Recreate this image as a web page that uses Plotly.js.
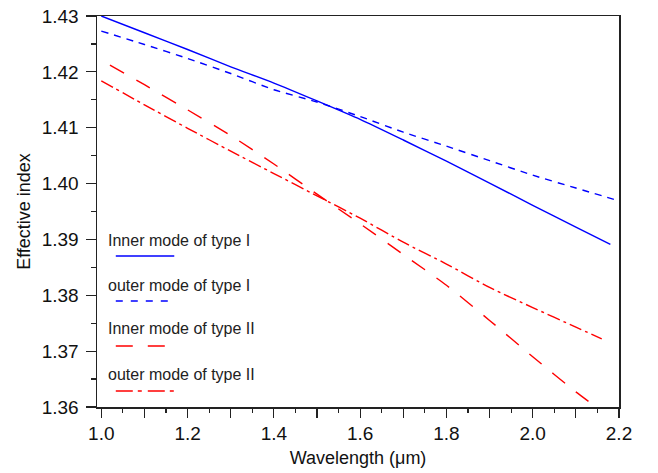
<!DOCTYPE html>
<html>
<head>
<meta charset="utf-8">
<script src="https://cdn.plot.ly/plotly-3.0.1.min.js"></script>
<style>html,body{margin:0;padding:0;background:#fff;}#chart{width:658px;height:473px;}</style>
</head>
<body>
<div id="chart"></div>
<script>
// Series names
var seriesNames = ["Inner mode of type I", "outer mode of type I", "Inner mode of type II", "outer mode of type II"];

// Inner mode of type I (blue solid)
var innerI_x = [1.0, 1.1, 1.2, 1.3, 1.4, 1.5, 1.6, 1.7, 1.8, 1.9, 2.0, 2.1, 2.18];
var innerI_y = [1.4300, 1.4270, 1.4240, 1.4209, 1.4180, 1.4148, 1.4115, 1.4078, 1.4040, 1.4001, 1.3961, 1.3922, 1.3891];

// outer mode of type I (blue dashed)
var outerI_x = [1.0, 1.1, 1.2, 1.3, 1.4, 1.5, 1.6, 1.7, 1.8, 1.9, 2.0, 2.1, 2.2];
var outerI_y = [1.4273, 1.4249, 1.4224, 1.4197, 1.4168, 1.4146, 1.4120, 1.4092, 1.4067, 1.4041, 1.4015, 1.3992, 1.3969];

// Inner mode of type II (red long dash)
var innerII_x = [1.02, 1.1, 1.2, 1.3, 1.4, 1.5, 1.6, 1.7, 1.8, 1.9, 2.0, 2.1, 2.14];
var innerII_y = [1.4212, 1.4177, 1.4132, 1.4086, 1.4035, 1.3981, 1.3928, 1.3873, 1.3818, 1.3755, 1.3690, 1.3627, 1.3604];

// outer mode of type II (red dash-dot)
var outerII_x = [1.0, 1.1, 1.2, 1.3, 1.4, 1.5, 1.6, 1.7, 1.8, 1.9, 2.0, 2.1, 2.16];
var outerII_y = [1.4184, 1.4141, 1.4099, 1.4058, 1.4018, 1.3978, 1.3938, 1.3895, 1.3856, 1.3814, 1.3778, 1.3743, 1.3722];

var colors = ["#0000ff", "#0000ff", "#ff0000", "#ff0000"];
var dashes = ["solid", "7px,6px", "16px,14px", "13px,4px,3px,4px"];
var xs = [innerI_x, outerI_x, innerII_x, outerII_x];
var ys = [innerI_y, outerI_y, innerII_y, outerII_y];

var traces = [];
for (var i = 0; i < 4; i++) {
  traces.push({
    x: xs[i], y: ys[i], name: seriesNames[i], type: "scatter", mode: "lines",
    line: {color: colors[i], width: 1.4, dash: dashes[i], shape: "spline", smoothing: 0.6},
    showlegend: false, hoverinfo: "skip"
  });
}

// Legend drawn as text + line samples inside the plot
var legTextY = [0.427, 0.312, 0.1995, 0.084];
var legLineY = [0.386, 0.271, 0.156, 0.041];
var annotations = [];
var shapes = [];
for (var j = 0; j < 4; j++) {
  annotations.push({
    xref: "paper", yref: "paper", x: 0.017, y: legTextY[j], xanchor: "left", yanchor: "middle",
    text: seriesNames[j], showarrow: false,
    font: {family: "Liberation Sans, Arial, sans-serif", size: 16, color: "#222"}
  });
  shapes.push({
    type: "line", xref: "paper", yref: "paper", x0: 0.036, x1: 0.148, y0: legLineY[j], y1: legLineY[j],
    line: {color: colors[j], width: 1.4, dash: j === 1 ? "7px,8px" : (j === 2 ? "17px,15px" : (j === 3 ? "17px,5px,4px,6px" : "solid"))}
  });
}

var fontFam = "Liberation Sans, Arial, sans-serif";
var layout = {
  width: 658, height: 473,
  margin: {l: 97, r: 39, t: 16, b: 66},
  paper_bgcolor: "#ffffff", plot_bgcolor: "#ffffff",
  font: {family: fontFam, size: 18, color: "#111"},
  xaxis: {
    range: [0.99, 2.2], dtick: 0.1, tick0: 1.0, ticklabelstep: 2, tickformat: ".1f",
    ticks: "outside", ticklen: 9, tickwidth: 1.2, tickcolor: "#222",
    showline: true, linecolor: "#222", linewidth: 1.5, mirror: true,
    showgrid: false, zeroline: false,
    tickfont: {family: fontFam, size: 19, color: "#111"},
    title: {text: "Wavelength (\u03bcm)", font: {family: fontFam, size: 18, color: "#111"}, standoff: 8},
    minor: {dtick: 0.05, tick0: 1.0, ticks: "outside", ticklen: 4, tickwidth: 1.2, tickcolor: "#222", showgrid: false}
  },
  yaxis: {
    range: [1.36, 1.43], dtick: 0.01, tick0: 1.36, tickformat: ".2f",
    ticks: "outside", ticklen: 10, tickwidth: 1.2, tickcolor: "#222",
    showline: true, linecolor: "#222", linewidth: 1.5, mirror: true,
    showgrid: false, zeroline: false, ticklabelstandoff: 3,
    tickfont: {family: fontFam, size: 19, color: "#111"},
    title: {text: "Effective index", font: {family: fontFam, size: 18, color: "#111"}, standoff: 6},
    minor: {dtick: 0.005, tick0: 1.36, ticks: "outside", ticklen: 5, tickwidth: 1.2, tickcolor: "#222", showgrid: false}
  },
  annotations: annotations,
  shapes: shapes
};

Plotly.newPlot("chart", traces, layout, {displayModeBar: false, staticPlot: true});
</script>
</body>
</html>
